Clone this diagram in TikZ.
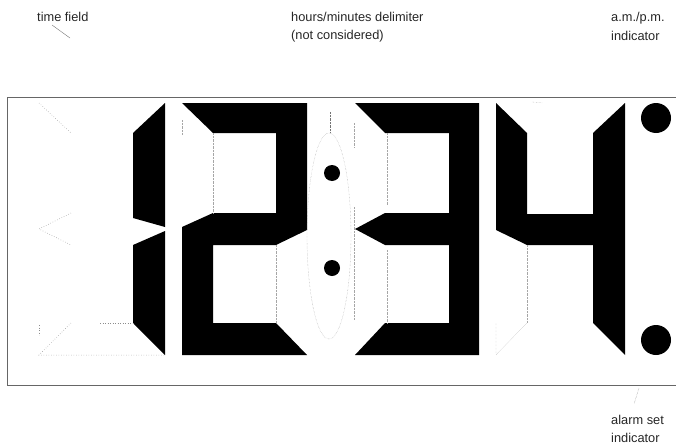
\documentclass[tikz,border=0pt]{standalone}
\usepackage{fontspec}
\setmainfont{Liberation Sans}
\begin{document}
\begin{tikzpicture}[x=1pt,y=-1pt,
  lbl/.style={anchor=base west,inner sep=0pt,font=\fontsize{12.8}{18}\selectfont,text=black!85},
  seg/.style={fill=black,draw=none},
  ghost/.style={draw=black!45,line width=0.5pt,dotted},
  ghostfine/.style={draw=black!35,line width=0.4pt,densely dotted},
  frame/.style={draw=black!60,line width=0.8pt},
  leader/.style={draw=black!55,line width=0.4pt,densely dotted},
  dot/.style={fill=black,draw=none}]
\useasboundingbox (0,0) rectangle (676,444);
% frame (open at right)
\draw[frame] (676,97) -- (7,97) -- (7,385) -- (676,385);
% labels
\node[lbl] (tf) at (37,22) {time field};
\node[lbl] (hd1) at (291,22) {hours/minutes delimiter};
\node[lbl] (hd2) at (291,40) {(not considered)};
\node[lbl] (ap1) at (611,22) {a.m./p.m.};
\node[lbl] (ap2) at (611,41) {indicator};
\node[lbl] (al1) at (611,424) {alarm set};
\node[lbl] (al2) at (611,442) {indicator};
% leaders
\coordinate (tfa) at (52,25); \coordinate (tfb) at (70,38);
\draw[draw=black!55,line width=0.4pt] (tfa) -- (tfb);
\coordinate (hda) at (330,112); \coordinate (hdb) at (330,133);
\draw[leader] (hda) -- (hdb);
\coordinate (ala) at (639,388); \coordinate (alb) at (634,404);
\draw[leader] (ala) -- (alb);
% digit 1 (segments b, c)
\fill[seg] (165,103) -- (165,227) -- (133,218) -- (133,133) -- cycle;
\fill[seg] (165,231) -- (165,355) -- (133,323) -- (133,245) -- cycle;
% ghosts digit 1
\draw[ghost] (39,103) -- (71,133);
\draw[ghost] (71,213) -- (39,229) -- (71,245);
\draw[ghost] (71,323) -- (39,355) -- (165,355);
\draw[ghost] (39,325) -- (39,335);
\draw[ghost] (100,323) -- (133,323);
% digit 2
\fill[seg] (182,103) -- (307,103) -- (307,230) -- (276,245) -- (213,245) -- (213,323)
  -- (276,323) -- (307,355) -- (182,355) -- (182,227) -- (213,213) -- (276,213)
  -- (276,133) -- (213,133) -- cycle;
\draw[ghostfine] (182,120) -- (182,135);
\draw[ghostfine] (213,133) -- (213,213);
\draw[ghostfine] (276,245) -- (276,323);
% delimiter
\draw[ghostfine] (329,236) ellipse [x radius=22, y radius=103];
\fill[dot] (332,173) circle (8);
\fill[dot] (332,268) circle (8);
% digit 3
\fill[seg] (355,103) -- (479,103) -- (479,355) -- (355,355) -- (385,323) -- (449,323)
  -- (449,245) -- (385,245) -- (355,229) -- (385,213) -- (449,213) -- (449,133)
  -- (385,133) -- cycle;
\draw[ghostfine] (354,123) -- (354,147);
\draw[ghostfine] (354,207) -- (354,320);
\draw[ghostfine] (387,133) -- (387,205);
\draw[ghostfine] (387,250) -- (387,323);
% digit 4
\fill[seg] (496,103) -- (527,133) -- (527,214) -- (593,214) -- (593,133) -- (625,103)
  -- (625,355) -- (593,323) -- (593,245) -- (527,245) -- (496,230) -- cycle;
\draw[ghostfine] (496,323) -- (496,355) -- (527,323);
\draw[ghostfine] (527,245) -- (527,323);
\draw[ghostfine] (532,102) -- (543,103);
% indicators
\fill[dot] (656,118) circle (15);
\fill[dot] (656,340) circle (15);
\end{tikzpicture}
\end{document}
